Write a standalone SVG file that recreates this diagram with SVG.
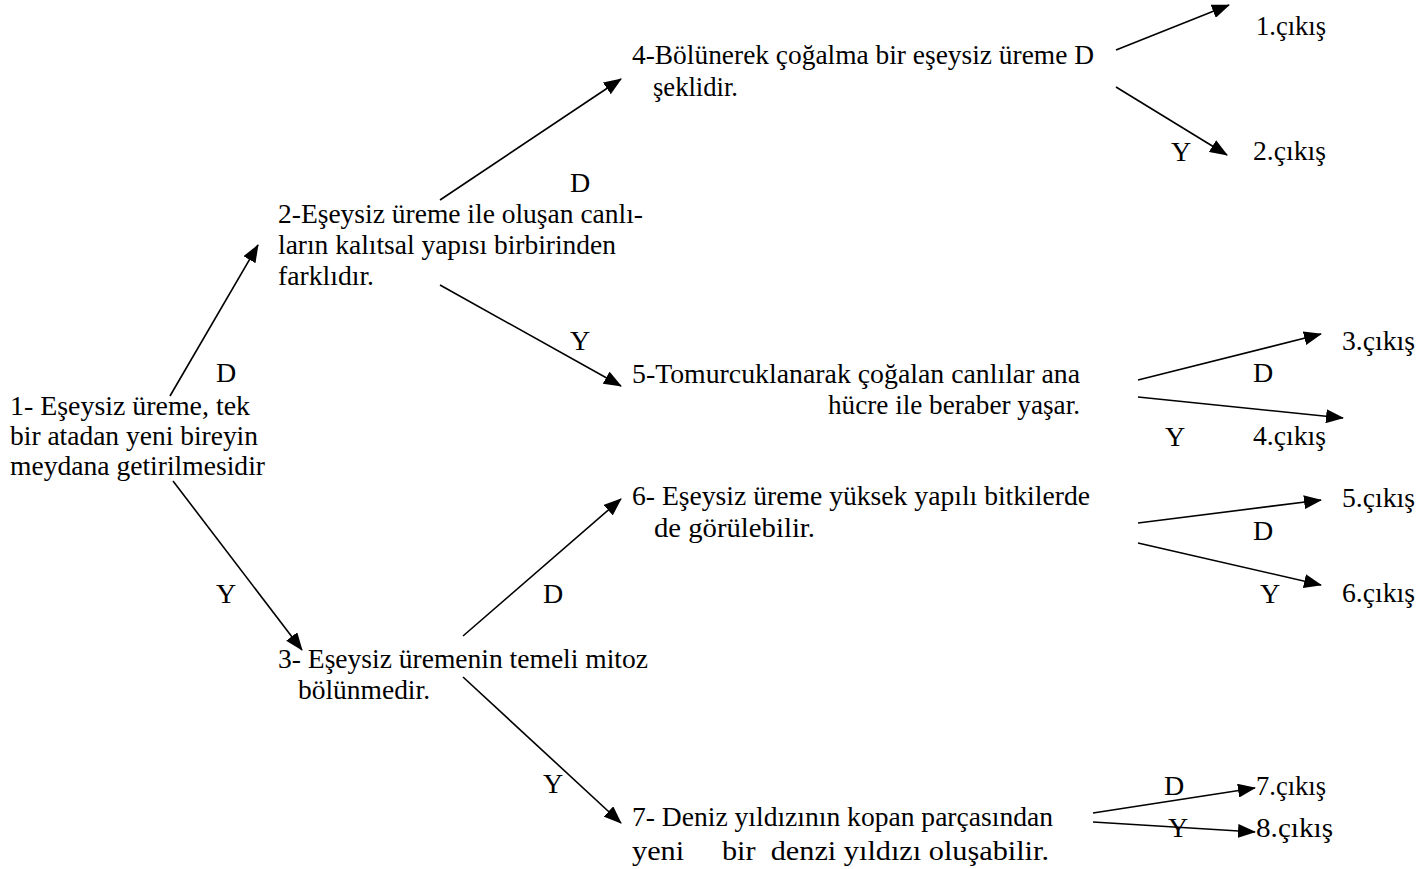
<svg xmlns="http://www.w3.org/2000/svg" width="1420" height="869" viewBox="0 0 1420 869">
  <style>
    text { font-family: "Liberation Serif", "Times New Roman", serif; font-size: 28px; fill: #000; }
    .lbl { text-anchor: middle; }
    .edge { stroke: #000; stroke-width: 1.6; fill: none; marker-end: url(#arrow); }
  </style>
  <defs>
    <marker id="arrow" viewBox="0 0 18 14" refX="17" refY="7" markerWidth="18" markerHeight="14" markerUnits="userSpaceOnUse" orient="auto">
      <path d="M0,0 L18,7 L0,14 Z" fill="#000"/>
    </marker>
  </defs>
  <rect width="1420" height="869" fill="#fff"/>

  <!-- decision nodes -->
  <g id="node1">
    <text x="10" y="415" textLength="240" lengthAdjust="spacingAndGlyphs">1- Eşeysiz üreme, tek</text>
    <text x="10" y="445" textLength="248" lengthAdjust="spacingAndGlyphs">bir atadan yeni bireyin</text>
    <text x="10" y="475" textLength="255" lengthAdjust="spacingAndGlyphs">meydana getirilmesidir</text>
  </g>
  <g id="node2">
    <text x="278" y="223" textLength="365" lengthAdjust="spacingAndGlyphs">2-Eşeysiz üreme ile oluşan canlı-</text>
    <text x="278" y="254" textLength="338" lengthAdjust="spacingAndGlyphs">ların kalıtsal yapısı birbirinden</text>
    <text x="278" y="285" textLength="96" lengthAdjust="spacingAndGlyphs">farklıdır.</text>
  </g>
  <g id="node3">
    <text x="278" y="668" textLength="370" lengthAdjust="spacingAndGlyphs">3- Eşeysiz üremenin temeli mitoz</text>
    <text x="298" y="699" textLength="132" lengthAdjust="spacingAndGlyphs">bölünmedir.</text>
  </g>
  <g id="node4">
    <text x="632" y="64" textLength="462" lengthAdjust="spacingAndGlyphs">4-Bölünerek çoğalma bir eşeysiz üreme D</text>
    <text x="653" y="96" textLength="85" lengthAdjust="spacingAndGlyphs">şeklidir.</text>
  </g>
  <g id="node5">
    <text x="632" y="383" textLength="448" lengthAdjust="spacingAndGlyphs">5-Tomurcuklanarak çoğalan canlılar ana</text>
    <text x="828" y="414" textLength="252" lengthAdjust="spacingAndGlyphs">hücre ile beraber yaşar.</text>
  </g>
  <g id="node6">
    <text x="632" y="505" textLength="458" lengthAdjust="spacingAndGlyphs">6- Eşeysiz üreme yüksek yapılı bitkilerde</text>
    <text x="654" y="537" textLength="161" lengthAdjust="spacingAndGlyphs">de görülebilir.</text>
  </g>
  <g id="node7">
    <text x="632" y="826" textLength="421" lengthAdjust="spacingAndGlyphs">7- Deniz yıldızının kopan parçasından</text>
    <text x="632" y="860" textLength="417" lengthAdjust="spacingAndGlyphs" xml:space="preserve">yeni     bir  denzi yıldızı oluşabilir.</text>
  </g>

  <!-- exits -->
  <g id="out1"><text x="1256" y="35" textLength="70" lengthAdjust="spacingAndGlyphs">1.çıkış</text></g>
  <g id="out2"><text x="1253" y="160" textLength="73" lengthAdjust="spacingAndGlyphs">2.çıkış</text></g>
  <g id="out3"><text x="1342" y="350" textLength="73" lengthAdjust="spacingAndGlyphs">3.çıkış</text></g>
  <g id="out4"><text x="1253" y="445" textLength="73" lengthAdjust="spacingAndGlyphs">4.çıkış</text></g>
  <g id="out5"><text x="1342" y="507" textLength="73" lengthAdjust="spacingAndGlyphs">5.çıkış</text></g>
  <g id="out6"><text x="1342" y="602" textLength="73" lengthAdjust="spacingAndGlyphs">6.çıkış</text></g>
  <g id="out7"><text x="1256" y="795" textLength="70" lengthAdjust="spacingAndGlyphs">7.çıkış</text></g>
  <g id="out8"><text x="1256" y="837" textLength="77" lengthAdjust="spacingAndGlyphs">8.çıkış</text></g>

  <!-- connectors with D / Y labels -->
  <g id="connectors">
    <line class="edge" x1="170" y1="396" x2="258" y2="245"/>
    <line class="edge" x1="173" y1="481" x2="302" y2="650"/>
    <line class="edge" x1="440" y1="200" x2="621" y2="79"/>
    <line class="edge" x1="440" y1="285" x2="621" y2="386"/>
    <line class="edge" x1="463" y1="636" x2="621" y2="499"/>
    <line class="edge" x1="463" y1="677" x2="621" y2="823"/>
    <line class="edge" x1="1116" y1="50" x2="1229" y2="5"/>
    <line class="edge" x1="1116" y1="87" x2="1227" y2="155"/>
    <line class="edge" x1="1138" y1="380" x2="1321" y2="334"/>
    <line class="edge" x1="1138" y1="397" x2="1343" y2="418"/>
    <line class="edge" x1="1138" y1="523" x2="1321" y2="500"/>
    <line class="edge" x1="1138" y1="543" x2="1321" y2="585"/>
    <line class="edge" x1="1093" y1="813" x2="1255" y2="788"/>
    <line class="edge" x1="1093" y1="822" x2="1255" y2="832"/>

    <text class="lbl" x="226" y="382">D</text>
    <text class="lbl" x="580" y="192">D</text>
    <text class="lbl" x="580" y="350">Y</text>
    <text class="lbl" x="226" y="603">Y</text>
    <text class="lbl" x="553" y="603">D</text>
    <text class="lbl" x="553" y="793">Y</text>
    <text class="lbl" x="1181" y="161">Y</text>
    <text class="lbl" x="1263" y="382">D</text>
    <text class="lbl" x="1175" y="446">Y</text>
    <text class="lbl" x="1263" y="540">D</text>
    <text class="lbl" x="1270" y="603">Y</text>
    <text class="lbl" x="1174" y="795">D</text>
    <text class="lbl" x="1178" y="837">Y</text>
  </g>
</svg>
